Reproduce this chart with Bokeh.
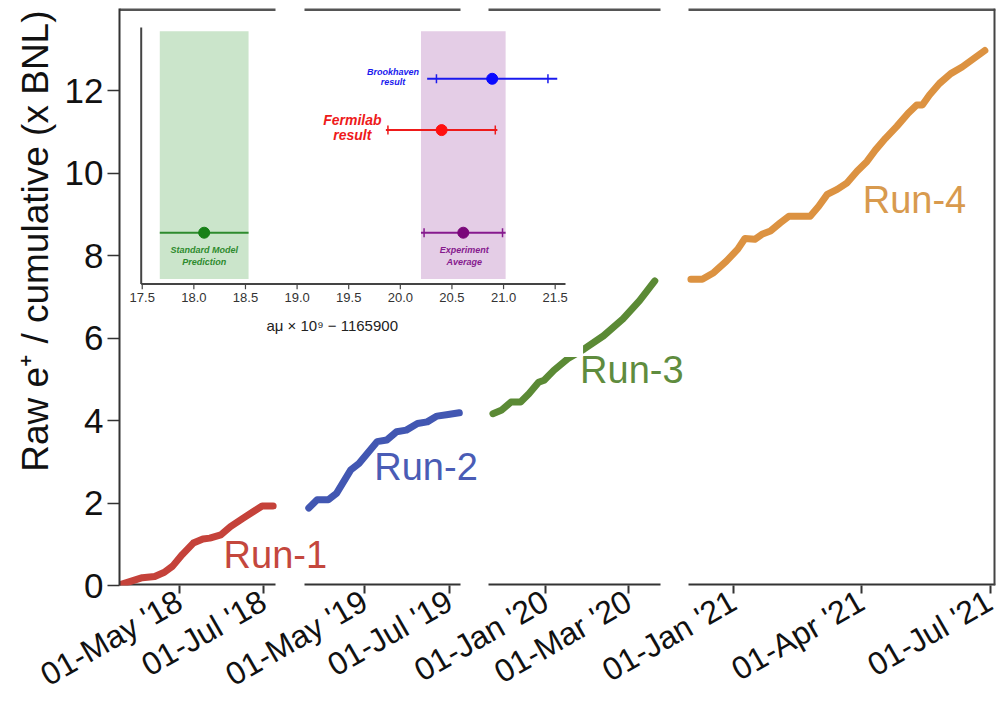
from math import pi
import pandas as pd
from bokeh.plotting import figure
from bokeh.models import Range1d, FixedTicker, Title, ColumnDataSource
from bokeh.core.properties import value, field
from bokeh.embed import file_html
from bokeh.resources import INLINE

FONT = "Liberation Sans"

# ---------------- main chart data (cumulative raw e+ / BNL) ----------------
run1_dates = ["2018-03-19", "2018-04-04", "2018-04-13", "2018-04-20", "2018-04-26", "2018-05-03",
              "2018-05-11", "2018-05-18", "2018-05-23", "2018-05-31", "2018-06-07", "2018-06-16",
              "2018-06-24", "2018-06-30", "2018-07-08"]
run1_vals = [0.02, 0.19, 0.22, 0.32, 0.47, 0.75, 1.03, 1.13, 1.15, 1.23, 1.43, 1.63, 1.80, 1.93, 1.93]

run2_dates = ["2019-03-22", "2019-03-28", "2019-04-05", "2019-04-11", "2019-04-21", "2019-04-27",
              "2019-05-10", "2019-05-17", "2019-05-24", "2019-05-31", "2019-06-08", "2019-06-15",
              "2019-06-22", "2019-06-30", "2019-07-08"]
run2_vals = [1.88, 2.08, 2.08, 2.24, 2.80, 2.96, 3.49, 3.53, 3.73, 3.77, 3.93, 3.97, 4.11, 4.15, 4.19]

run3_dates = ["2019-11-24", "2019-11-30", "2019-12-07", "2019-12-14", "2019-12-20", "2019-12-27",
              "2019-12-31", "2020-01-07", "2020-01-17", "2020-01-29", "2020-02-12", "2020-02-26",
              "2020-03-09", "2020-03-20"]
run3_vals = [4.17, 4.25, 4.45, 4.45, 4.65, 4.93, 4.98, 5.22, 5.50, 5.74, 6.06, 6.47, 6.91, 7.39]

run4_dates = ["2020-12-02", "2020-12-10", "2020-12-18", "2020-12-27", "2021-01-04", "2021-01-09",
              "2021-01-16", "2021-01-21", "2021-01-27", "2021-02-03", "2021-02-09", "2021-02-16",
              "2021-02-24", "2021-03-02", "2021-03-08", "2021-03-15", "2021-03-22", "2021-03-29",
              "2021-04-05", "2021-04-11", "2021-04-18", "2021-04-26", "2021-05-04", "2021-05-10",
              "2021-05-14", "2021-05-19", "2021-05-26", "2021-06-03", "2021-06-11", "2021-06-19",
              "2021-06-27"]
run4_vals = [7.43, 7.43, 7.59, 7.87, 8.16, 8.42, 8.40, 8.52, 8.60, 8.80, 8.96, 8.96, 8.96, 9.20,
             9.49, 9.61, 9.77, 10.05, 10.29, 10.57, 10.85, 11.14, 11.46, 11.66, 11.66, 11.90,
             12.18, 12.42, 12.58, 12.78, 12.98]

run_names = ["Run-1", "Run-2", "Run-3", "Run-4"]
run_line_colors = ["#c5423a", "#4257b2", "#5b8a35", "#dc9241"]
run_text_colors = ["#c4473d", "#4a5cb5", "#5f8c3e", "#d89a4e"]

# date span shown in each panel of the broken time axis, and its tick dates
panel_ranges = [("2018-03-18 10:00", "2018-07-09 17:00"),
                ("2019-03-18 22:00", "2019-07-08 21:00"),
                ("2019-11-20 19:00", "2020-03-24 03:00"),
                ("2020-11-30 07:00", "2021-07-04 12:00")]
panel_ticks = [["2018-05-01", "2018-07-01"],
               ["2019-05-01", "2019-07-01"],
               ["2020-01-01", "2020-03-01"],
               ["2021-01-01", "2021-04-01", "2021-07-01"]]
y_ticks = [0, 2, 4, 6, 8, 10, 12]
y_max = 14
y_label = "Raw e\u207a / cumulative (x BNL)"

# ---------------- inset data (a_mu x 1e9 - 1165900) ----------------
band_centers = [18.10, 20.61]
band_halfwidths = [0.43, 0.41]
band_colors = ["#cbe5cb", "#e4cde6"]

meas_names = ["Standard Model", "Brookhaven", "Fermilab", "Experiment Average"]
meas_centers = [18.10, 20.89, 20.40, 20.61]
meas_errors = [0.43, 0.63, 0.54, 0.41]
meas_rows = [2, 8, 6, 2]
meas_line_colors = ["#2e8b2e", "#1a1aee", "#ee1a1a", "#861a8e"]
meas_point_colors = ["#178017", "#0a0aff", "#ff1010", "#7a087a"]

cap_centers = [20.89, 20.89, 20.40, 20.40, 20.61, 20.61]
cap_offsets = [-0.54, 0.54, -0.52, 0.52, -0.38, 0.38]
cap_rows = [8, 8, 6, 6, 2, 2]
cap_colors = ["#1a1aee", "#1a1aee", "#ee1a1a", "#ee1a1a", "#861a8e", "#861a8e"]

inset_ticks = [17.5, 18.0, 18.5, 19.0, 19.5, 20.0, 20.5, 21.0, 21.5]
inset_xlabel = "a\u03bc \u00d7 10\u2079 \u2212 1165900"

# ---------------- layout of the broken axis (frame units) ----------------
FRAME_W, FRAME_H = 876, 578
panel_extent = [(0, 156), (185, 341), (369, 541), (569, 876)]


def mapper(i):
    a, b = panel_extent[i]
    s, e = (pd.Timestamp(t) for t in panel_ranges[i])

    def f(dates):
        d = pd.to_datetime(pd.Series(dates))
        return list(a + (d - s) / (e - s) * (b - a))
    return f


p = figure(width=998, height=711, x_range=Range1d(0, FRAME_W), y_range=Range1d(0, y_max),
           output_backend="svg", toolbar_location=None,
           min_border_left=119, min_border_right=3, min_border_top=8, min_border_bottom=125)
p.background_fill_color = "white"
p.border_fill_color = "white"
p.outline_line_color = None
p.xgrid.visible = False
p.ygrid.visible = False

# ---- x axis (broken): ticks at each panel's dates ----
tick_pos, overrides = [], {}
for i in range(4):
    pos = mapper(i)(panel_ticks[i])
    for t, x in zip(panel_ticks[i], pos):
        x = round(x, 3)
        tick_pos.append(x)
        overrides[x] = pd.Timestamp(t).strftime("%d-%b '%y")
ax = p.xaxis[0]
ax.ticker = FixedTicker(ticks=tick_pos)
ax.major_label_overrides = overrides
ax.major_label_orientation = pi / 6
ax.major_label_text_font = FONT
ax.major_label_text_font_size = "32px"
ax.major_label_text_line_height = 0.7
ax.major_label_text_color = "#111111"
ax.major_label_standoff = 5
ax.major_tick_out = 8
ax.major_tick_in = 0
ax.minor_tick_line_color = None
ax.axis_line_color = None
ax.major_tick_line_color = "#333333"
ax.major_tick_line_width = 2

ay = p.yaxis[0]
ay.ticker = FixedTicker(ticks=y_ticks)
ay.major_label_text_font = FONT
ay.major_label_text_font_size = "35px"
ay.major_label_text_color = "#111111"
ay.major_label_standoff = 4
ay.major_tick_out = 12
ay.major_tick_in = 0
ay.minor_tick_line_color = None
ay.axis_line_width = 2
ay.axis_line_color = "#333333"
ay.major_tick_line_color = "#333333"
ay.major_tick_line_width = 1.5
p.add_layout(Title(text=y_label, align="right", offset=2, text_font=FONT,
                   text_font_size="37px", text_font_style="normal",
                   text_color="#111111", standoff=12), "left")

# panel frames: bottom axis pieces, top border pieces, right border
seg_x0 = [a for a, b in panel_extent]
seg_x1 = [b for a, b in panel_extent]
p.segment(x0=seg_x0, x1=seg_x1, y0=0, y1=0, line_color="#333333", line_width=4)
p.segment(x0=seg_x0, x1=seg_x1, y0=y_max, y1=y_max, line_color="#555555", line_width=5)
p.segment(x0=[FRAME_W], x1=[FRAME_W], y0=0, y1=y_max, line_color="#444444", line_width=4)

# ---- the four runs ----
all_dates = [run1_dates, run2_dates, run3_dates, run4_dates]
all_vals = [run1_vals, run2_vals, run3_vals, run4_vals]
label_dates = ["2018-06-02", "2019-05-08", "2020-01-26", "2021-04-02"]
label_vals = [0.74, 2.87, 5.22, 9.36]
for i in range(4):
    f = mapper(i)
    p.line(f(all_dates[i]), all_vals[i], line_width=7, line_color=run_line_colors[i],
           line_join="round", line_cap="round")
lab = ColumnDataSource(dict(x=[mapper(i)([label_dates[i]])[0] for i in range(4)],
                            y=label_vals, text=run_names, color=run_text_colors))
p.text(x="x", y="y", text="text", text_color="color", text_font=value(FONT),
       text_font_size="38px", text_align="left", text_baseline="alphabetic", source=lab)

# ---------------- inset, drawn on its own ranges ----------------
ix0, ix1, ixv0, ixv1 = 21.7, 446.0, 17.49, 21.6          # inset frame, frame px -> value
iy0, iy1, iyv0, iyv1 = 302.0, 559.0, 0.0, 10.0
sx = (ixv1 - ixv0) / (ix1 - ix0)
sy = (iyv1 - iyv0) / (iy1 - iy0)
p.extra_x_ranges = {"ins": Range1d(ixv0 - ix0 * sx, ixv0 - ix0 * sx + FRAME_W * sx)}
p.extra_y_ranges = {"ins": Range1d(iyv0 - iy0 * sy, iyv0 - iy0 * sy + FRAME_H * sy)}
R = dict(x_range_name="ins", y_range_name="ins")

# white backing of the pasted inset
p.quad(left=17.30, right=21.77, bottom=-2.84, top=10.62, fill_color="white",
       line_color=None, **R)

bands = ColumnDataSource(dict(
    left=[c - h for c, h in zip(band_centers, band_halfwidths)],
    right=[c + h for c, h in zip(band_centers, band_halfwidths)],
    color=band_colors))
p.quad(left="left", right="right", bottom=0.2, top=9.85, fill_color="color",
       line_color=None, source=bands, **R)

meas = ColumnDataSource(dict(
    x0=[c - e for c, e in zip(meas_centers, meas_errors)],
    x1=[c + e for c, e in zip(meas_centers, meas_errors)],
    x=meas_centers, y=meas_rows, lc=meas_line_colors, pc=meas_point_colors))
p.segment(x0="x0", x1="x1", y0="y", y1="y", line_color="lc", line_width=2, source=meas, **R)
caps = ColumnDataSource(dict(x=[c + o for c, o in zip(cap_centers, cap_offsets)],
                             y=cap_rows, c=cap_colors))
p.scatter(x="x", y="y", marker="dash", angle=pi / 2, size=9, line_color="c", line_width=1.5,
          source=caps, **R)
p.scatter(x="x", y="y", size=11, fill_color="pc", line_color="pc", source=meas, **R)

txt = ColumnDataSource(dict(
    x=[19.93, 19.93, 19.535, 19.535, 18.10, 18.10, 20.62, 20.62],
    y=[8.25, 7.86, 6.38, 5.80, 1.32, 0.86, 1.32, 0.86],
    text=["Brookhaven", "result", "Fermilab", "result", "Standard Model", "Prediction",
          "Experiment", "Average"],
    color=["#1a1aee", "#1a1aee", "#ee1a1a", "#ee1a1a", "#2e8b2e", "#2e8b2e", "#861a8e",
           "#861a8e"],
    size=["9px", "9px", "14px", "14px", "9px", "9px", "9px", "9px"]))
p.text(x="x", y="y", text="text", text_color="color", text_font_size=field("size"),
       text_font=value(FONT), text_font_style="bold italic", text_align="center",
       text_baseline="middle", source=txt, **R)

# inset axes
p.segment(x0=[ixv0], x1=[ixv1], y0=[0], y1=[0], line_color="#444444", line_width=2, **R)
p.segment(x0=[ixv0], x1=[ixv0], y0=[0], y1=[10], line_color="#444444", line_width=2, **R)
p.segment(x0=inset_ticks, x1=inset_ticks, y0=0, y1=-0.2, line_color="#444444",
          line_width=1.2, **R)
p.text(x=inset_ticks, y=[-0.52] * len(inset_ticks),
       text=["%.1f" % t for t in inset_ticks], text_color="#333333",
       text_font=value(FONT), text_font_size="13px", text_align="center",
       text_baseline="middle", **R)
p.text(x=[19.34], y=[-1.6], text=[inset_xlabel], text_color="#222222",
       text_font=value(FONT), text_font_size="15px", text_align="center",
       text_baseline="middle", **R)

with open("out.html", "w") as fh:
    fh.write(file_html(p, INLINE))
